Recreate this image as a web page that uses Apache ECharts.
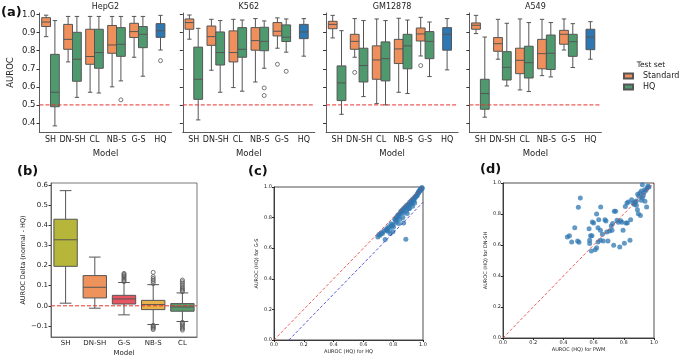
<!DOCTYPE html>
<html>
<head>
<meta charset="UTF-8">
<title></title>
<style>html,body{margin:0;padding:0;background:#fff}</style>
</head>
<body>
<div id="main" style="width:682px;height:359px;"></div>
<script src="https://cdn.jsdelivr.net/npm/echarts@6/dist/echarts.min.js"></script>
<script>
var models = ['SH', 'DN-SH', 'CL', 'NB-S', 'G-S', 'HQ'];
var cellLines = ['HepG2', 'K562', 'GM12878', 'A549'];
var aurocTicks = [0.4, 0.5, 0.6, 0.7, 0.8, 0.9, 1.0];
var chanceLevel = [[0, 0.5], [1, 0.5]];

// [min, q1, median, q3, max] for SH, DN-SH, CL, NB-S, G-S
var hepg2Standard = [[0.878, 0.934, 0.959, 0.983, 0.997], [0.738, 0.808, 0.863, 0.946, 0.99], [0.57, 0.725, 0.768, 0.919, 0.99], [0.60, 0.786, 0.832, 0.94, 0.99], [0.764, 0.873, 0.906, 0.952, 0.99]];
var hepg2HQ = [[0.384, 0.49, 0.57, 0.78, 0.967], [0.542, 0.631, 0.753, 0.902, 0.99], [0.566, 0.703, 0.79, 0.919, 0.99], [0.633, 0.769, 0.836, 0.928, 0.99], [0.659, 0.817, 0.891, 0.934, 0.99]];
var hepg2Model = [[0.804, 0.874, 0.911, 0.95, 0.996]];
var k562Standard = [[0.864, 0.919, 0.956, 0.976, 0.998], [0.692, 0.83, 0.878, 0.937, 0.974], [0.596, 0.738, 0.79, 0.91, 0.974], [0.627, 0.803, 0.856, 0.928, 0.978], [0.814, 0.882, 0.908, 0.956, 0.982]];
var k562HQ = [[0.417, 0.531, 0.642, 0.82, 0.924], [0.57, 0.721, 0.79, 0.904, 0.967], [0.576, 0.764, 0.808, 0.928, 0.97], [0.703, 0.80, 0.852, 0.93, 0.965], [0.792, 0.851, 0.875, 0.943, 0.976]];
var k562Model = [[0.77, 0.867, 0.904, 0.946, 0.978]];
var gm12878Standard = [[0.871, 0.922, 0.946, 0.963, 0.996], [0.764, 0.808, 0.852, 0.891, 0.978], [0.507, 0.642, 0.749, 0.827, 0.976], [0.57, 0.729, 0.81, 0.863, 0.98], [0.771, 0.854, 0.893, 0.926, 0.985]];
var gm12878HQ = [[0.448, 0.524, 0.622, 0.716, 0.911], [0.546, 0.627, 0.718, 0.814, 0.967], [0.50, 0.633, 0.756, 0.849, 0.967], [0.563, 0.70, 0.827, 0.891, 0.97], [0.657, 0.756, 0.852, 0.906, 0.959]];
var gm12878Model = [[0.694, 0.803, 0.891, 0.928, 0.978]];
var a549Standard = [[0.895, 0.919, 0.941, 0.954, 0.996], [0.753, 0.797, 0.839, 0.873, 0.974], [0.583, 0.673, 0.747, 0.814, 0.976], [0.662, 0.70, 0.784, 0.863, 0.974], [0.804, 0.836, 0.891, 0.913, 0.976]];
var a549HQ = [[0.432, 0.476, 0.563, 0.642, 0.876], [0.605, 0.638, 0.708, 0.795, 0.952], [0.574, 0.649, 0.734, 0.825, 0.956], [0.655, 0.696, 0.786, 0.887, 0.956], [0.707, 0.769, 0.85, 0.891, 0.95]];
var a549Model = [[0.753, 0.806, 0.876, 0.919, 0.961]];

// outliers: [model, value]
var hepg2StandardFliers = [];
var hepg2HQFliers = [['NB-S', 0.528]];
var hepg2ModelFliers = [['HQ', 0.745]];
var k562StandardFliers = [['G-S', 0.725]];
var k562HQFliers = [['NB-S', 0.594], ['NB-S', 0.552], ['G-S', 0.686]];
var k562ModelFliers = [];
var gm12878StandardFliers = [['DN-SH', 0.68], ['G-S', 0.718]];
var gm12878HQFliers = [];
var gm12878ModelFliers = [];
var a549StandardFliers = [];
var a549HQFliers = [];
var a549ModelFliers = [];

// panel (b)
var deltaModels = ['SH', 'DN-SH', 'G-S', 'NB-S', 'CL'];
var deltaTicks = [-0.1, 0.0, 0.1, 0.2, 0.3, 0.4, 0.5, 0.6];
var zeroLevel = [[0, 0], [1, 0]];
var deltaBoxes = [[0.013, 0.196, 0.328, 0.43, 0.572], [-0.012, 0.039, 0.092, 0.15, 0.242], [-0.045, 0.009, 0.034, 0.052, 0.116], [-0.093, -0.019, 0.006, 0.027, 0.105], [-0.078, -0.027, -0.006, 0.011, 0.064]];
var deltaFliers = [['G-S', 0.12], ['G-S', 0.126], ['G-S', 0.132], ['G-S', 0.138], ['G-S', 0.145], ['G-S', 0.15], ['G-S', 0.156], ['G-S', 0.161],
  ['NB-S', 0.11], ['NB-S', 0.12], ['NB-S', 0.128], ['NB-S', 0.136], ['NB-S', 0.145], ['NB-S', 0.166], ['NB-S', -0.097], ['NB-S', -0.102], ['NB-S', -0.107], ['NB-S', -0.112], ['NB-S', -0.118],
  ['CL', 0.07], ['CL', 0.076], ['CL', 0.082], ['CL', 0.088], ['CL', 0.095], ['CL', 0.104], ['CL', 0.112], ['CL', 0.12], ['CL', 0.128], ['CL', -0.082], ['CL', -0.088], ['CL', -0.094], ['CL', -0.1], ['CL', -0.108], ['CL', -0.114], ['CL', -0.121]];

// panel (c): [AUROC HQ for HQ, AUROC HQ for G-S]
var hqVsGs = [[0.697, 0.674], [0.705, 0.69], [0.712, 0.685], [0.728, 0.696], [0.735, 0.71], [0.746, 0.657], [0.75, 0.72], [0.757, 0.717], [0.764, 0.711], [0.77, 0.74], [0.775, 0.728], [0.78, 0.696], [0.785, 0.76], [0.791, 0.746], [0.798, 0.707], [0.802, 0.739], [0.81, 0.79], [0.816, 0.783], [0.82, 0.8], [0.825, 0.793], [0.83, 0.815], [0.836, 0.809], [0.836, 0.761], [0.84, 0.822], [0.847, 0.826], [0.85, 0.84], [0.858, 0.837], [0.86, 0.85], [0.87, 0.765], [0.87, 0.86], [0.874, 0.852], [0.88, 0.87], [0.885, 0.659], [0.888, 0.865], [0.89, 0.88], [0.894, 0.826], [0.9, 0.885], [0.903, 0.88], [0.91, 0.859], [0.91, 0.9], [0.915, 0.891], [0.92, 0.91], [0.926, 0.902], [0.93, 0.874], [0.93, 0.92], [0.937, 0.917], [0.94, 0.93], [0.944, 0.896], [0.948, 0.93], [0.95, 0.94], [0.955, 0.939], [0.96, 0.952], [0.962, 0.945], [0.966, 0.961], [0.97, 0.96], [0.971, 0.97], [0.975, 0.97], [0.978, 0.978], [0.98, 0.975], [0.982, 0.985], [0.985, 0.98], [0.989, 0.991], [0.993, 0.996], [0.995, 0.99], [0.865, 0.8], [0.845, 0.79], [0.82, 0.77], [0.8, 0.755], [0.76, 0.73], [0.72, 0.7], [0.905, 0.86], [0.925, 0.89], [0.94, 0.91], [0.87, 0.83], [0.89, 0.845]];
var equalLine = [[0, 0], [1, 1]];
var offsetLine = [[0.1, 0], [1, 0.9]];

// panel (d): [AUROC HQ for PWM, AUROC HQ for DN-SH]
var pwmVsDnsh = [[0.512, 0.903], [0.499, 0.843], [0.475, 0.712], [0.426, 0.652], [0.44, 0.66], [0.455, 0.619], [0.494, 0.626], [0.503, 0.617], [0.57, 0.705], [0.592, 0.748], [0.60, 0.742], [0.574, 0.63], [0.574, 0.609], [0.58, 0.66], [0.589, 0.66], [0.585, 0.561], [0.62, 0.80], [0.647, 0.845], [0.634, 0.763], [0.629, 0.712], [0.645, 0.695], [0.62, 0.583], [0.611, 0.57], [0.629, 0.619], [0.645, 0.63], [0.658, 0.669], [0.675, 0.763], [0.682, 0.755], [0.664, 0.626], [0.695, 0.626], [0.687, 0.684], [0.706, 0.69], [0.717, 0.723], [0.726, 0.738], [0.722, 0.695], [0.733, 0.598], [0.746, 0.817], [0.737, 0.817], [0.755, 0.759], [0.764, 0.746], [0.773, 0.587], [0.779, 0.757], [0.788, 0.746], [0.795, 0.695], [0.804, 0.611], [0.815, 0.742], [0.823, 0.742], [0.81, 0.849], [0.821, 0.871], [0.83, 0.877], [0.841, 0.63], [0.845, 0.763], [0.852, 0.892], [0.861, 0.871], [0.874, 0.877], [0.883, 0.884], [0.89, 0.828], [0.896, 0.802], [0.91, 0.791], [0.892, 0.927], [0.90, 0.914], [0.907, 0.935], [0.916, 0.948], [0.923, 0.989], [0.923, 0.905], [0.929, 0.92], [0.934, 0.938], [0.938, 0.957], [0.947, 0.953], [0.951, 0.845], [0.956, 0.97], [0.96, 0.981], [0.967, 0.974], [0.94, 0.882], [0.87, 0.862], [0.883, 0.856], [0.916, 0.888]];

var FONT = 'DejaVu Sans';
var ORANGE = '#ef8f5b', GREEN = '#4e9a6e', BLUE = '#2d78b2', EDGE = '#555555', RED = '#e8322f';
var deltaColors = ['#b6b73a', '#ef935c', '#e65560', '#e8b34b', '#599b6c'];

var myChart = echarts.init(document.getElementById('main'));

function drawBox(offset, width, color) {
  return function (params, api) {
    var c = api.value(0);
    var band = api.size([1, 0])[0];
    var x = api.coord([c, 0])[0] + offset * band;
    var half = width * band / 2;
    var y = [1, 2, 3, 4, 5].map(function (d) { return api.coord([c, api.value(d)])[1]; });
    var line = {stroke: EDGE, lineWidth: 1};
    var fill = typeof color === 'string' ? color : color[params.dataIndex];
    return {type: 'group', children: [
      {type: 'line', shape: {x1: x, y1: y[0], x2: x, y2: y[1]}, style: line},
      {type: 'line', shape: {x1: x, y1: y[3], x2: x, y2: y[4]}, style: line},
      {type: 'line', shape: {x1: x - half / 2, y1: y[0], x2: x + half / 2, y2: y[0]}, style: line},
      {type: 'line', shape: {x1: x - half / 2, y1: y[4], x2: x + half / 2, y2: y[4]}, style: line},
      {type: 'rect', shape: {x: x - half, y: y[3], width: 2 * half, height: y[1] - y[3]}, style: {fill: fill, stroke: EDGE, lineWidth: 1}},
      {type: 'line', shape: {x1: x - half, y1: y[2], x2: x + half, y2: y[2]}, style: line}
    ]};
  };
}

function boxSeries(idx, name, rows, start, offset, width, color) {
  return {
    type: 'custom', name: name, xAxisIndex: idx, yAxisIndex: idx,
    itemStyle: {color: typeof color === 'string' ? color : color[0], borderColor: EDGE, borderWidth: 0.8},
    encode: {x: 0, y: [1, 2, 3, 4, 5]},
    data: rows.map(function (r, k) { return [start + k].concat(r); }),
    renderItem: drawBox(offset, width, color)
  };
}

function flierSeries(idx, cats, points, offset) {
  return {
    type: 'custom', xAxisIndex: idx, yAxisIndex: idx, silent: true,
    encode: {x: 0, y: 1},
    data: points.map(function (p) { return [cats.indexOf(p[0]), p[1]]; }),
    renderItem: function (params, api) {
      var c = api.value(0);
      var band = api.size([1, 0])[0];
      var pt = api.coord([c, api.value(1)]);
      return {type: 'circle', shape: {cx: pt[0] + offset * band, cy: pt[1], r: 2}, style: {fill: 'none', stroke: EDGE, lineWidth: 0.8}};
    }
  };
}

function refLine(xIdx, yIdx, pts, color, width, dash) {
  return {type: 'line', xAxisIndex: xIdx, yAxisIndex: yIdx, data: pts, symbol: 'none', silent: true,
    lineStyle: {color: color, width: width, type: dash}, z: 3};
}

// a hidden 0..1 value axis that spans a grid, for horizontal reference lines
function spanAxis(gridIdx) {
  return {gridIndex: gridIdx, type: 'value', min: 0, max: 1, show: false, splitLine: {show: false}};
}

var standardSets = [hepg2Standard, k562Standard, gm12878Standard, a549Standard];
var hqSets = [hepg2HQ, k562HQ, gm12878HQ, a549HQ];
var modelSets = [hepg2Model, k562Model, gm12878Model, a549Model];
var standardFlierSets = [hepg2StandardFliers, k562StandardFliers, gm12878StandardFliers, a549StandardFliers];
var hqFlierSets = [hepg2HQFliers, k562HQFliers, gm12878HQFliers, a549HQFliers];
var modelFlierSets = [hepg2ModelFliers, k562ModelFliers, gm12878ModelFliers, a549ModelFliers];

var aLefts = [39.5, 182.8, 326.1, 469.4];
var grids = [], xAxes = [], yAxes = [], series = [], graphics = [], extraX = [];
var txt = {color: '#222', fontFamily: FONT};

cellLines.forEach(function (name, i) {
  grids.push({left: aLefts[i], top: 13, width: 132, height: 119});
  xAxes.push({
    gridIndex: i, type: 'category', data: models,
    axisLine: {onZero: false, lineStyle: {color: '#333', width: 0.8}},
    axisTick: {alignWithLabel: true, length: 3, lineStyle: {color: '#333'}},
    axisLabel: Object.assign({fontSize: 8, margin: 4, interval: 0, hideOverlap: false}, txt),
    name: 'Model', nameLocation: 'middle', nameGap: 17,
    nameTextStyle: Object.assign({fontSize: 8.5}, txt)
  });
  yAxes.push({
    gridIndex: i, type: 'value', min: 0.35, max: 1.009,
    splitLine: {show: false},
    axisLine: {show: true, lineStyle: {color: '#333', width: 0.8}},
    axisTick: {show: true, length: 3, customValues: aurocTicks, lineStyle: {color: '#333'}},
    axisLabel: Object.assign({show: i === 0, fontSize: 8.5, margin: 4, customValues: aurocTicks,
      formatter: function (v) { return v.toFixed(1); }}, txt),
    name: i === 0 ? 'AUROC' : '', nameLocation: 'middle', nameGap: 24,
    nameTextStyle: Object.assign({fontSize: 8.5}, txt)
  });
  series.push(boxSeries(i, 'Standard', standardSets[i], 0, -0.2, 0.4, ORANGE));
  series.push(boxSeries(i, 'HQ', hqSets[i], 0, 0.2, 0.4, GREEN));
  series.push(boxSeries(i, 'HQ model', modelSets[i], 5, 0, 0.4, BLUE));
  series.push(flierSeries(i, models, standardFlierSets[i], -0.2));
  series.push(flierSeries(i, models, hqFlierSets[i], 0.2));
  series.push(flierSeries(i, models, modelFlierSets[i], 0));
  extraX.push({grid: i, y: i, pts: chanceLevel});
  graphics.push({type: 'text', x: aLefts[i] + 66, y: 7,
    style: {text: name, font: '8px "DejaVu Sans"', fill: '#222', align: 'center', verticalAlign: 'middle'}});
});

// panel (b)
grids.push({left: 51, top: 183, width: 146, height: 154, show: true, borderColor: '#555', borderWidth: 0.8});
xAxes.push({
  gridIndex: 4, type: 'category', data: deltaModels,
  axisLine: {onZero: false, lineStyle: {color: '#555', width: 0.8}},
  axisTick: {alignWithLabel: true, length: 2.5, lineStyle: {color: '#333'}},
  axisLabel: Object.assign({fontSize: 7, margin: 3, interval: 0, hideOverlap: false}, txt),
  name: 'Model', nameLocation: 'middle', nameGap: 13,
  nameTextStyle: Object.assign({fontSize: 7}, txt)
});
yAxes.push({
  gridIndex: 4, type: 'value', min: -0.155, max: 0.61,
  splitLine: {show: false},
  axisLine: {show: true, onZero: false, lineStyle: {color: '#555', width: 0.8}},
  axisTick: {show: true, length: 2.5, customValues: deltaTicks, lineStyle: {color: '#333'}},
  axisLabel: Object.assign({fontSize: 7, margin: 3, customValues: deltaTicks,
    formatter: function (v) { return v.toFixed(1).replace('-', '\u2212'); }}, txt),
  name: 'AUROC Delta (normal - HQ)', nameLocation: 'middle', nameGap: 22,
  nameTextStyle: Object.assign({fontSize: 6.5}, txt)
});
series.push(boxSeries(4, 'Delta', deltaBoxes, 0, 0, 0.8, deltaColors));
series.push(flierSeries(4, deltaModels, deltaFliers, 0));
extraX.push({grid: 4, y: 4, pts: zeroLevel});

// panels (c) and (d)
function scatterAxes(idx, xName, yName) {
  xAxes.push({
    gridIndex: idx, type: 'value', min: 0, max: 1, interval: 0.2, splitLine: {show: false},
    axisLine: {onZero: false, lineStyle: {color: '#222', width: 0.8}},
    axisTick: {length: 2, lineStyle: {color: '#222'}},
    axisLabel: Object.assign({fontSize: 5, margin: 2, formatter: function (v) { return v.toFixed(1); }}, txt),
    name: xName, nameLocation: 'middle', nameGap: 9, nameTextStyle: Object.assign({fontSize: 5}, txt)
  });
  yAxes.push({
    gridIndex: idx, type: 'value', min: 0, max: 1, interval: 0.2, splitLine: {show: false},
    axisLine: {onZero: false, lineStyle: {color: '#222', width: 0.8}},
    axisTick: {length: 2, lineStyle: {color: '#222'}},
    axisLabel: Object.assign({fontSize: 5, margin: 2, formatter: function (v) { return v.toFixed(1); }}, txt),
    name: yName, nameLocation: 'middle', nameGap: 15, nameTextStyle: Object.assign({fontSize: 5}, txt)
  });
}
grids.push({left: 274, top: 187, width: 149, height: 153, show: true, borderColor: '#222', borderWidth: 0.8});
scatterAxes(5, 'AUROC (HQ) for HQ', 'AUROC (HQ) for G-S');
grids.push({left: 503, top: 183, width: 151, height: 155, show: true, borderColor: '#222', borderWidth: 0.8});
scatterAxes(6, 'AUROC (HQ) for PWM', 'AUROC (HQ) for DN-SH');

function dots(idx, pts) {
  return {type: 'scatter', xAxisIndex: idx, yAxisIndex: idx, data: pts, symbolSize: 5, silent: true,
    itemStyle: {color: '#2f77b2', opacity: 0.75}, z: 2};
}
series.push(refLine(5, 5, equalLine, RED, 0.8, [3, 2]));
series.push(refLine(5, 5, offsetLine, '#2c2cd0', 0.8, [3, 2]));
series.push(dots(5, hqVsGs));
series.push(refLine(6, 6, equalLine, RED, 0.8, [3, 2]));
series.push(dots(6, pwmVsDnsh));

// dashed chance / zero lines on hidden spanning axes
extraX.forEach(function (e) {
  var xi = xAxes.length;
  xAxes.push(spanAxis(e.grid));
  series.push(refLine(xi, e.y, e.pts, RED, 1, [4, 2]));
});

// panel letters and legend title
[['(a)', 1, 12.5], ['(b)', 17, 172], ['(c)', 248, 172], ['(d)', 480, 170]].forEach(function (p) {
  graphics.push({type: 'text', x: p[1], y: p[2],
    style: {text: p[0], font: 'bold 13px "DejaVu Sans"', fill: '#111', align: 'left', verticalAlign: 'middle'}});
});
graphics.push({type: 'text', x: 651, y: 65,
  style: {text: 'Test set', font: '7.5px "DejaVu Sans"', fill: '#222', align: 'center', verticalAlign: 'middle'}});

var option = {
  animation: false,
  backgroundColor: '#fff',
  textStyle: {fontFamily: FONT},
  grid: grids,
  xAxis: xAxes,
  yAxis: yAxes,
  legend: {
    orient: 'vertical', left: 623, top: 72, padding: 0, itemWidth: 9, itemHeight: 5, itemGap: 3,
    data: [{name: 'Standard', icon: 'rect'}, {name: 'HQ', icon: 'rect'}],
    textStyle: {fontSize: 8, color: '#222', fontFamily: FONT, padding: [0, 0, 0, 5]},
    selectedMode: false
  },
  graphic: graphics,
  series: series
};

myChart.setOption(option);
</script>
</body>
</html>
